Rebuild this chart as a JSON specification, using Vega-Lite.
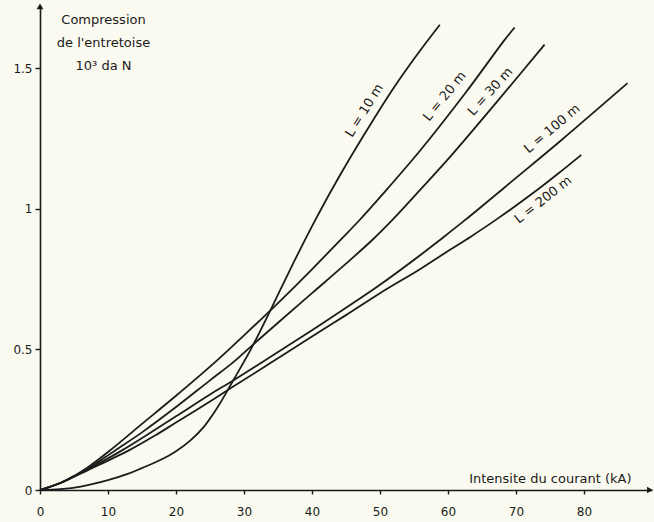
{
  "$schema": "https://vega.github.io/schema/vega-lite/v6.json",
  "width": 612,
  "height": 485,
  "autosize": {"type": "none"},
  "padding": {"left": 40, "top": 5, "right": 2, "bottom": 32},
  "background": "#fbfaf0",
  "config": {
    "view": {"stroke": null},
    "font": "DejaVu Sans",
    "axis": {"grid": false, "domainColor": "#1a1a1a", "domainWidth": 1.6, "tickColor": "#1a1a1a", "tickWidth": 1.4, "labelColor": "#1a1a1a", "labelFont": "DejaVu Sans", "labelFontSize": 12, "titleFont": "DejaVu Sans", "titleColor": "#1a1a1a", "titleFontWeight": "normal", "titleFontSize": 13}
  },
  "datasets": {
    "curves": [
      {"L": "10 m", "I": 0, "F": 0}, {"L": "10 m", "I": 3, "F": 0.003}, {"L": "10 m", "I": 6, "F": 0.012}, {"L": "10 m", "I": 10, "F": 0.035}, {"L": "10 m", "I": 13, "F": 0.058}, {"L": "10 m", "I": 15, "F": 0.078}, {"L": "10 m", "I": 18, "F": 0.11}, {"L": "10 m", "I": 20, "F": 0.138}, {"L": "10 m", "I": 22, "F": 0.174}, {"L": "10 m", "I": 24, "F": 0.222}, {"L": "10 m", "I": 26, "F": 0.29}, {"L": "10 m", "I": 28.3, "F": 0.385}, {"L": "10 m", "I": 31, "F": 0.5}, {"L": "10 m", "I": 34.2, "F": 0.655}, {"L": "10 m", "I": 36, "F": 0.745}, {"L": "10 m", "I": 38.1, "F": 0.848}, {"L": "10 m", "I": 40.3, "F": 0.952}, {"L": "10 m", "I": 43.3, "F": 1.085}, {"L": "10 m", "I": 47.7, "F": 1.265}, {"L": "10 m", "I": 52, "F": 1.43}, {"L": "10 m", "I": 55.5, "F": 1.55}, {"L": "10 m", "I": 58.8, "F": 1.655},
      {"L": "20 m", "I": 0, "F": 0}, {"L": "20 m", "I": 3, "F": 0.025}, {"L": "20 m", "I": 5, "F": 0.05}, {"L": "20 m", "I": 7, "F": 0.08}, {"L": "20 m", "I": 10, "F": 0.135}, {"L": "20 m", "I": 15, "F": 0.235}, {"L": "20 m", "I": 20, "F": 0.335}, {"L": "20 m", "I": 26, "F": 0.46}, {"L": "20 m", "I": 30, "F": 0.55}, {"L": "20 m", "I": 35, "F": 0.665}, {"L": "20 m", "I": 40, "F": 0.785}, {"L": "20 m", "I": 44.2, "F": 0.89}, {"L": "20 m", "I": 46.8, "F": 0.955}, {"L": "20 m", "I": 50.5, "F": 1.055}, {"L": "20 m", "I": 56, "F": 1.21}, {"L": "20 m", "I": 62.5, "F": 1.41}, {"L": "20 m", "I": 68.3, "F": 1.6}, {"L": "20 m", "I": 69.8, "F": 1.645},
      {"L": "30 m", "I": 0, "F": 0}, {"L": "30 m", "I": 3, "F": 0.025}, {"L": "30 m", "I": 5, "F": 0.048}, {"L": "30 m", "I": 7, "F": 0.075}, {"L": "30 m", "I": 11, "F": 0.14}, {"L": "30 m", "I": 15, "F": 0.205}, {"L": "30 m", "I": 20, "F": 0.295}, {"L": "30 m", "I": 25, "F": 0.39}, {"L": "30 m", "I": 28.3, "F": 0.452}, {"L": "30 m", "I": 31, "F": 0.51}, {"L": "30 m", "I": 35, "F": 0.595}, {"L": "30 m", "I": 40, "F": 0.7}, {"L": "30 m", "I": 45, "F": 0.805}, {"L": "30 m", "I": 48.9, "F": 0.89}, {"L": "30 m", "I": 52, "F": 0.965}, {"L": "30 m", "I": 56, "F": 1.07}, {"L": "30 m", "I": 60.5, "F": 1.19}, {"L": "30 m", "I": 67, "F": 1.375}, {"L": "30 m", "I": 74.2, "F": 1.584},
      {"L": "100 m", "I": 0, "F": 0}, {"L": "100 m", "I": 3, "F": 0.025}, {"L": "100 m", "I": 5, "F": 0.048}, {"L": "100 m", "I": 7, "F": 0.073}, {"L": "100 m", "I": 12, "F": 0.14}, {"L": "100 m", "I": 16, "F": 0.2}, {"L": "100 m", "I": 20, "F": 0.262}, {"L": "100 m", "I": 25, "F": 0.34}, {"L": "100 m", "I": 28.3, "F": 0.388}, {"L": "100 m", "I": 33, "F": 0.46}, {"L": "100 m", "I": 40, "F": 0.568}, {"L": "100 m", "I": 45, "F": 0.648}, {"L": "100 m", "I": 50, "F": 0.73}, {"L": "100 m", "I": 56, "F": 0.837}, {"L": "100 m", "I": 59, "F": 0.893}, {"L": "100 m", "I": 62.4, "F": 0.958}, {"L": "100 m", "I": 70, "F": 1.11}, {"L": "100 m", "I": 76.7, "F": 1.245}, {"L": "100 m", "I": 86.4, "F": 1.447},
      {"L": "200 m", "I": 0, "F": 0}, {"L": "200 m", "I": 3, "F": 0.025}, {"L": "200 m", "I": 5, "F": 0.047}, {"L": "200 m", "I": 7, "F": 0.07}, {"L": "200 m", "I": 13, "F": 0.14}, {"L": "200 m", "I": 17, "F": 0.195}, {"L": "200 m", "I": 20, "F": 0.24}, {"L": "200 m", "I": 25, "F": 0.315}, {"L": "200 m", "I": 28.3, "F": 0.366}, {"L": "200 m", "I": 33.6, "F": 0.447}, {"L": "200 m", "I": 40, "F": 0.546}, {"L": "200 m", "I": 45, "F": 0.622}, {"L": "200 m", "I": 50, "F": 0.7}, {"L": "200 m", "I": 56, "F": 0.787}, {"L": "200 m", "I": 59.5, "F": 0.842}, {"L": "200 m", "I": 63.4, "F": 0.902}, {"L": "200 m", "I": 67.4, "F": 0.967}, {"L": "200 m", "I": 73, "F": 1.065}, {"L": "200 m", "I": 76.7, "F": 1.135}, {"L": "200 m", "I": 79.6, "F": 1.192}
    ],
    "labels": [
      {"L": "10 m", "I": 47.7, "F": 1.35, "text": "L = 10 m"},
      {"L": "20 m", "I": 59.5, "F": 1.40, "text": "L = 20 m"},
      {"L": "30 m", "I": 66.2, "F": 1.417, "text": "L = 30 m"},
      {"L": "100 m", "I": 75.3, "F": 1.285, "text": "L = 100 m"},
      {"L": "200 m", "I": 74.0, "F": 1.032, "text": "L = 200 m"}
    ],
    "arrows": [
      {"I": 0, "F": 1.72, "dir": "up"},
      {"I": 89.7, "F": 0, "dir": "right"}
    ]
  },
  "encoding": {
    "x": {
      "field": "I", "type": "quantitative",
      "scale": {"domain": [0, 90], "nice": false, "zero": true},
      "axis": {
        "title": "Intensite du courant (kA)",
        "values": [0, 10, 20, 30, 40, 50, 60, 70, 80],
        "tickSize": 4, "labelPadding": 12, "labelFlush": false,
        "titleX": 591, "titleY": -8, "titleAlign": "right", "titleBaseline": "alphabetic", "titleAnchor": null
      }
    },
    "y": {
      "field": "F", "type": "quantitative",
      "scale": {"domain": [0, 1.725], "nice": false},
      "axis": {
        "title": ["Compression", "de l'entretoise", "10³ da N"],
        "values": [0, 0.5, 1, 1.5],
        "format": "~g",
        "tickSize": 5, "labelPadding": 3, "labelFlush": false,
        "titleAngle": 0, "titleX": 63, "titleY": 8, "titleAlign": "center", "titleBaseline": "top", "titleLineHeight": 23, "titleAnchor": null
      }
    }
  },
  "layer": [
    {
      "data": {"name": "curves"},
      "mark": {"type": "line", "interpolate": "catmull-rom", "color": "#1c1c1c", "strokeWidth": 1.8},
      "encoding": {"detail": {"field": "L", "type": "nominal"}}
    },
    {
      "data": {"name": "labels"},
      "transform": [{"filter": "datum.L === '10 m'"}],
      "mark": {"type": "text", "angle": -58, "fontSize": 13, "color": "#1c1c1c", "align": "center", "baseline": "middle"},
      "encoding": {"text": {"field": "text"}}
    },
    {
      "data": {"name": "labels"},
      "transform": [{"filter": "datum.L === '20 m'"}],
      "mark": {"type": "text", "angle": -51, "fontSize": 13, "color": "#1c1c1c", "align": "center", "baseline": "middle"},
      "encoding": {"text": {"field": "text"}}
    },
    {
      "data": {"name": "labels"},
      "transform": [{"filter": "datum.L === '30 m'"}],
      "mark": {"type": "text", "angle": -48, "fontSize": 13, "color": "#1c1c1c", "align": "center", "baseline": "middle"},
      "encoding": {"text": {"field": "text"}}
    },
    {
      "data": {"name": "labels"},
      "transform": [{"filter": "datum.L === '100 m'"}],
      "mark": {"type": "text", "angle": -40, "fontSize": 13, "color": "#1c1c1c", "align": "center", "baseline": "middle"},
      "encoding": {"text": {"field": "text"}}
    },
    {
      "data": {"name": "labels"},
      "transform": [{"filter": "datum.L === '200 m'"}],
      "mark": {"type": "text", "angle": -38, "fontSize": 13, "color": "#1c1c1c", "align": "center", "baseline": "middle"},
      "encoding": {"text": {"field": "text"}}
    },
    {
      "data": {"name": "arrows"},
      "mark": {"type": "point", "filled": true, "color": "#1a1a1a", "size": 45, "opacity": 1},
      "encoding": {
        "shape": {"field": "dir", "type": "nominal", "scale": {"domain": ["up", "right"], "range": ["triangle-up", "triangle-right"]}, "legend": null}
      }
    }
  ]
}
